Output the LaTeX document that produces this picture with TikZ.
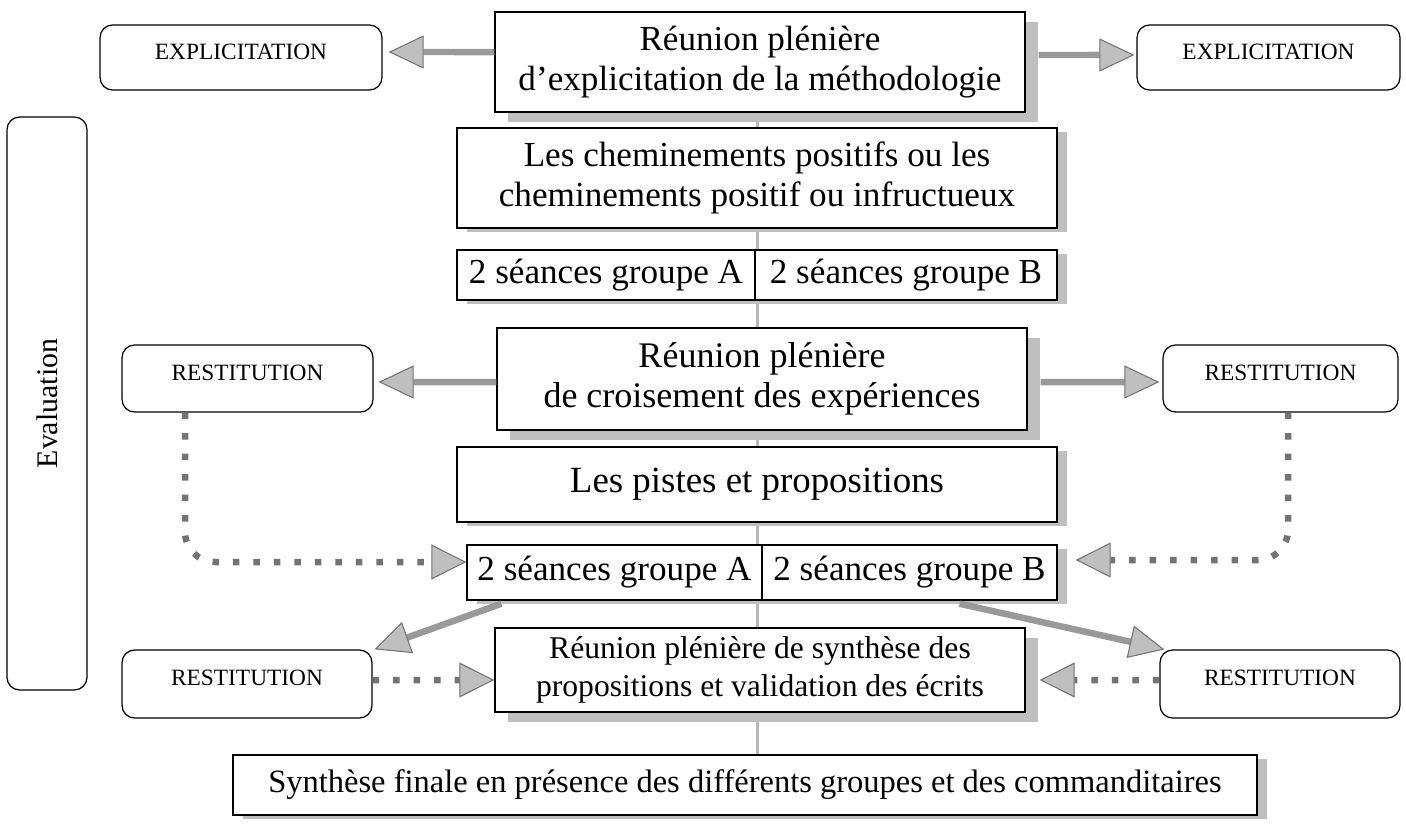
\documentclass[tikz,border=0pt]{standalone}
\usepackage{fontspec}
\setmainfont{Liberation Serif}
\usepackage{tikz}
\usetikzlibrary{positioning,arrows.meta,shadows,backgrounds}
\newcommand\bigtxt{\fontsize{20}{23}\selectfont}
\newcommand\midtxt{\fontsize{18}{21.5}\selectfont}
\newcommand\captxt{\fontsize{13.3}{15}\selectfont}
\newcommand\evaltxt{\fontsize{17}{19}\selectfont}
\tikzset{
  stage/.style={rectangle, draw=black, fill=white, line width=0.8pt,
                align=center, font=\bigtxt, inner sep=2pt},
  plen/.style={stage, drop shadow={shadow xshift=0.26cm, shadow yshift=-0.2cm,
               fill=gray!50, opacity=1}},
  flat/.style={stage, drop shadow={shadow xshift=0.2cm, shadow yshift=-0.08cm,
               fill=gray!50, opacity=1}},
  side/.style={rectangle, rounded corners=0.25cm, draw=black, fill=white,
               line width=0.7pt, align=center, font=\captxt},
  restbox/.style={side, text depth=7pt},
  fat/.style={draw=black!40, line width=0.13cm,
              -{Triangle[length=0.7cm, width=0.66cm, fill=gray!50, color=black!55, line width=0.6pt]}},
  dotflow/.style={draw=black!55, line width=0.13cm, dash pattern=on 0.13cm off 0.28cm,
              -{Triangle[length=0.7cm, width=0.7cm, fill=gray!50, color=black!55, line width=0.6pt]}},
  stub/.style={draw=gray!55, line width=0.06cm},
}

\begin{document}
\begin{tikzpicture}[x=0.02cm, y=-0.02cm]
  \useasboundingbox (0,0) rectangle (1406,828);
  % central column
  \node[plen, minimum width=10.6cm, minimum height=2cm] (reun1) at (760,62)
       {Réunion plénière\\d’explicitation de la méthodologie};
  \node[flat, minimum width=12cm, minimum height=2cm] (chem) at (757,178)
       {Les cheminements positifs ou les\\cheminements positif ou infructueux};
  \node[flat, minimum width=5.96cm, minimum height=1cm] (sa1) at (606,275) {2 séances groupe A};
  \node[flat, minimum width=6.04cm, minimum height=1cm] (sb1) at (906,275) {2 séances groupe B};
  \node[plen, minimum width=10.6cm, minimum height=2.04cm, font=\fontsize{20.5}{23}\selectfont] (crois)
       at (762,379) {Réunion plénière\\de croisement des expériences};
  \node[flat, minimum width=12cm, minimum height=1.5cm, font=\fontsize{21}{23}\selectfont] (pistes)
       at (757,484.5) {Les pistes et propositions};
  \node[flat, minimum width=5.9cm, minimum height=1.1cm] (sa2) at (614.5,572.5) {2 séances groupe A};
  \node[flat, minimum width=5.9cm, minimum height=1.1cm] (sb2) at (909.5,572.5) {2 séances groupe B};
  \node[plen, minimum width=10.6cm, minimum height=1.68cm, font=\midtxt] (synth) at (760,670)
       {Réunion plénière de synthèse des\\propositions et validation des écrits};
  \node[flat, minimum width=20.48cm, minimum height=1.2cm, font=\fontsize{18.5}{21}\selectfont] (finale)
       at (745,785) {Synthèse finale en présence des différents groupes et des commanditaires};

  % side boxes
  \node[restbox, minimum width=5.64cm, minimum height=1.3cm] (el) at (241,57.5) {EXPLICITATION};
  \node[restbox, minimum width=5.26cm, minimum height=1.3cm] (er) at (1268.5,57.5) {EXPLICITATION};
  \node[restbox, minimum width=5.02cm, minimum height=1.34cm] (rl1) at (247.5,378.5) {RESTITUTION};
  \node[restbox, minimum width=4.7cm, minimum height=1.34cm] (rr1) at (1280.5,378.5) {RESTITUTION};
  \node[restbox, minimum width=5cm, minimum height=1.36cm] (rl2) at (247,684) {RESTITUTION};
  \node[restbox, minimum width=4.8cm, minimum height=1.36cm] (rr2) at (1280,684) {RESTITUTION};
  \node[side, rotate=90, minimum width=11.46cm, minimum height=1.6cm, font=\evaltxt] (eval)
       at (47,403.5) {Evaluation};

  % links down the column
  \begin{scope}[on background layer]
    \draw[stub] (chem.north |- reun1.south) -- (chem.north);
    \draw[stub] (chem.south) -- (chem.south |- sa1.north);
    \draw[stub] (chem.south |- sa1.south) -- (chem.south |- crois.north);
    \draw[stub] (pistes.north |- crois.south) -- (pistes.north);
    \draw[stub] (pistes.south) -- (pistes.south |- sa2.north);
    \draw[stub] (pistes.south |- sa2.south) -- (pistes.south |- synth.north);
    \draw[stub] (pistes.south |- synth.south) -- (pistes.south |- finale.north);
  \end{scope}

  % arrows
  \draw[fat] ([yshift=0.2cm]reun1.west) -- ([xshift=0.12cm, yshift=0.11cm]el.east);
  \draw[fat] ([xshift=0.26cm, yshift=0.14cm]reun1.east) -- ([xshift=-0.04cm, yshift=0.05cm]er.west);
  \draw[fat] ([yshift=-0.06cm]crois.west) -- ([xshift=0.1cm, yshift=-0.07cm]rl1.east);
  \draw[fat] ([xshift=0.26cm, yshift=-0.06cm]crois.east) -- ([xshift=-0.06cm, yshift=-0.07cm]rr1.west);
  \draw[fat] ([xshift=0.7cm, yshift=-0.06cm]sa2.south west) -- ([xshift=0.04cm]rl2.north east);
  \draw[fat] ([xshift=1cm, yshift=-0.06cm]sb2.south) -- ([xshift=0.1cm]rr2.north west);

  \draw[dotflow, rounded corners=0.6cm] ([xshift=-1.25cm]rl1.south) |- ([yshift=0.21cm]sa2.west);
  \draw[dotflow, rounded corners=0.6cm] ([xshift=0.15cm]rr1.south) |- ([xshift=0.36cm, yshift=0.25cm]sb2.east);
  \draw[dotflow] ([yshift=0.08cm]rl2.east) -- ([yshift=-0.2cm]synth.west);
  \draw[dotflow] ([yshift=0.08cm]rr2.west) -- ([xshift=0.28cm, yshift=-0.2cm]synth.east);
\end{tikzpicture}
\end{document}
